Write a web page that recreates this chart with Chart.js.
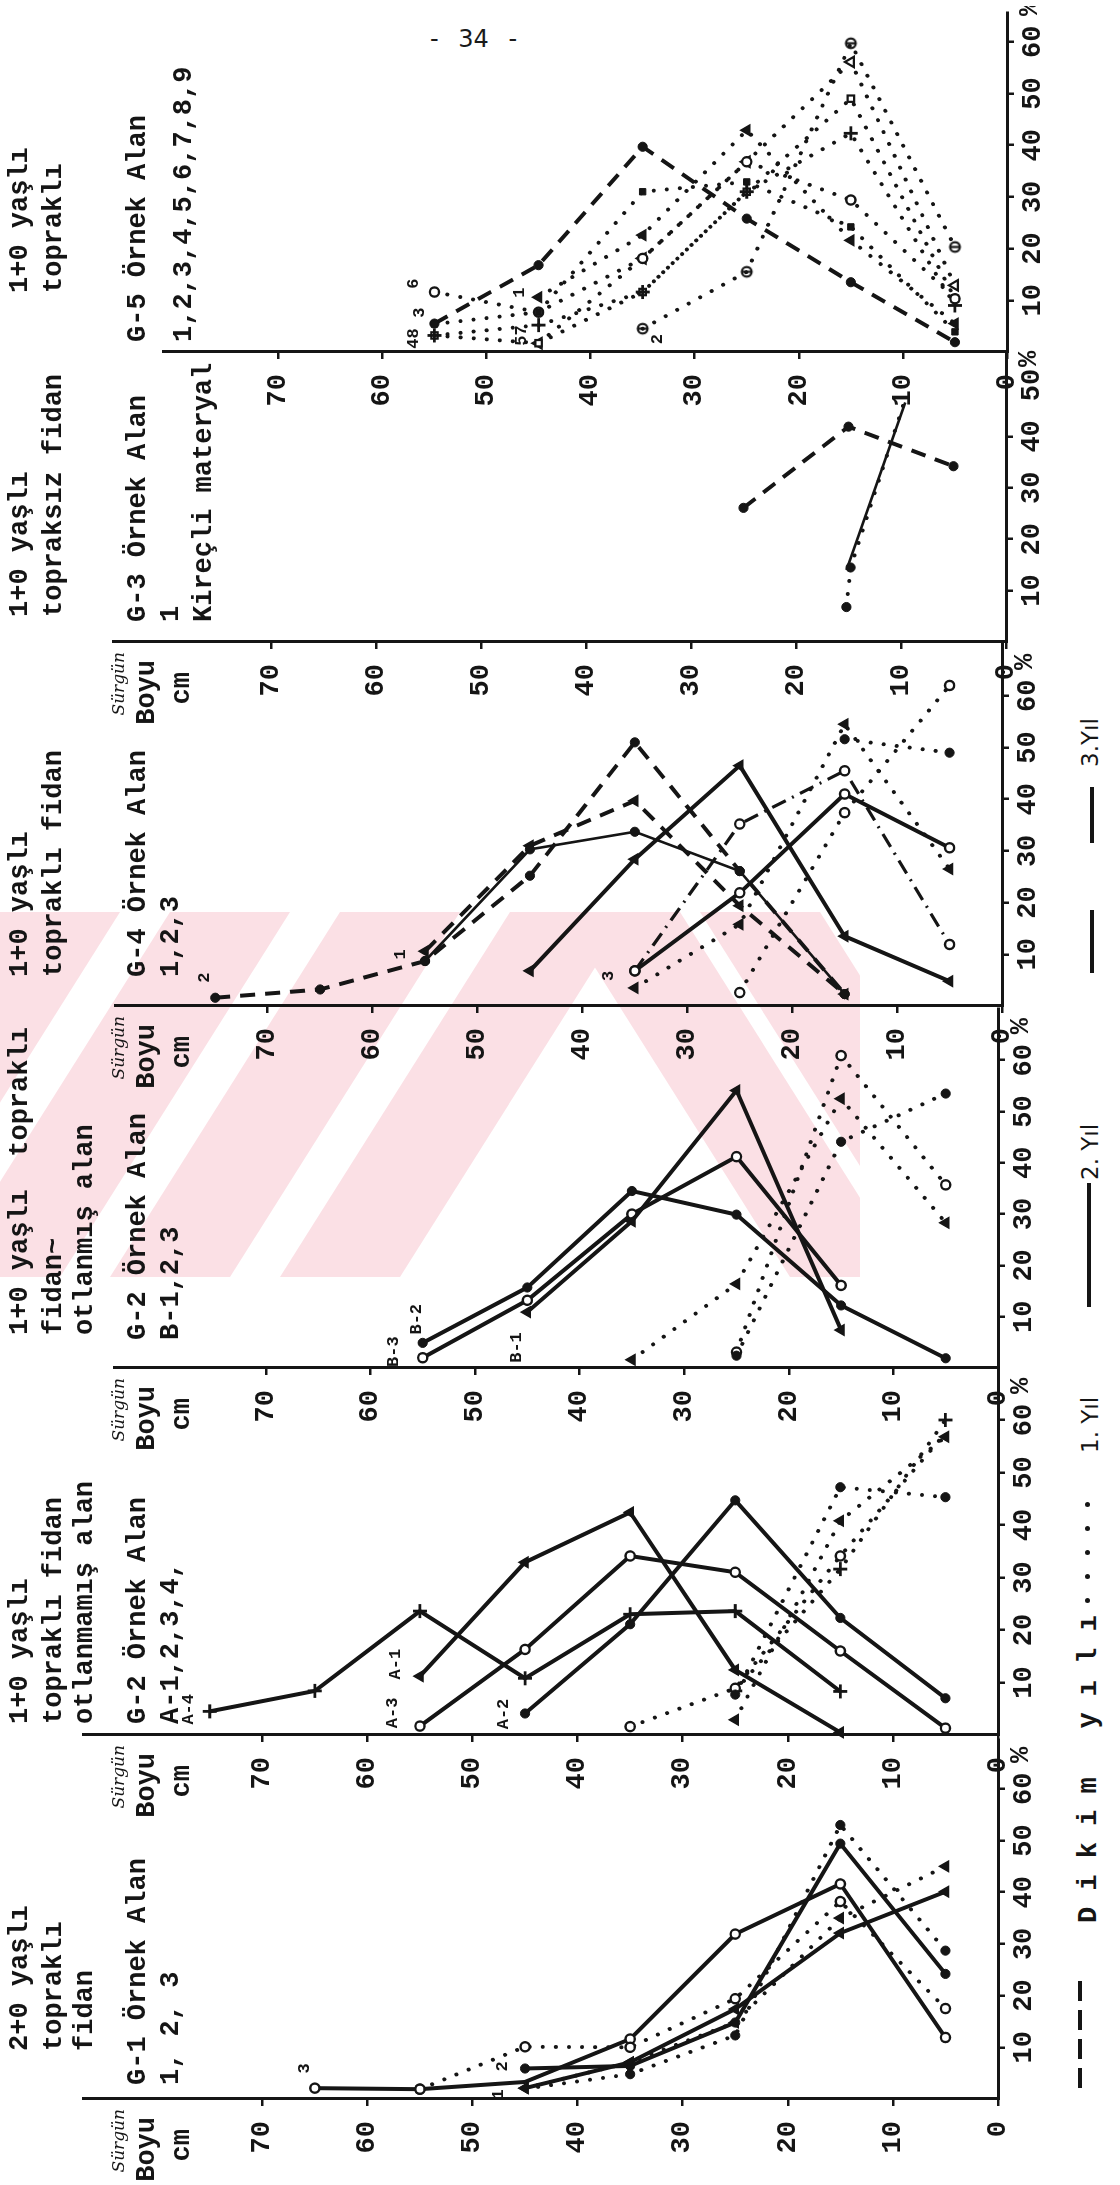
<!DOCTYPE html>
<html lang="tr">
<head>
<meta charset="utf-8">
<title>Sürgün boyu dağılımı - 34</title>
<script src="https://cdn.jsdelivr.net/npm/chart.js@4.4.0/dist/chart.umd.min.js"></script>
<style>
  html, body { margin: 0; padding: 0; background: #fff; }
  #page { position: relative; width: 1120px; height: 2185px; overflow: hidden; background: #fff; }
  #wm { position: absolute; left: 0; top: 0; }
  #num { position: absolute; left: 430px; top: 27px; font: 24px/24px 'DejaVu Sans', sans-serif; color: #1a1a1a; white-space: pre; word-spacing: 12px; }
  #land { position: absolute; left: 0; top: 0; width: 2185px; height: 1120px; transform-origin: 0 0; transform: translateY(2185px) rotate(-90deg); }
  #land canvas { position: absolute; top: 0; }
  .t { position: absolute; white-space: pre; color: #151515; font: bold 27px/27px 'Liberation Mono', 'DejaVu Sans Mono', monospace; }
  .hand { position: absolute; white-space: pre; color: #151515; font: italic 17px/17px 'DejaVu Serif', serif; }
  .yil { position: absolute; white-space: pre; color: #151515; font: 23px/23px 'DejaVu Sans', sans-serif; }
  .bar { position: absolute; background: #151515; }
  .dot { position: absolute; width: 5px; height: 5px; border-radius: 50%; background: #151515; }
</style>
</head>
<body>
<div id="page">
  <svg id="wm" width="1120" height="2185" viewBox="0 0 1120 2185">
    <defs><clipPath id="wmc"><rect x="0" y="912" width="860" height="365"/></clipPath></defs>
    <g clip-path="url(#wmc)" fill="#fbe0e5">
      <polygon points="-230,1277 -110,1277 120,912 0,912"/>
      <polygon points="-60,1277 60,1277 290,912 170,912"/>
      <polygon points="110,1277 230,1277 460,912 340,912"/>
      <polygon points="280,1277 400,1277 630,912 510,912"/>
      <polygon points="560,912 680,912 910,1277 790,1277"/>
      <polygon points="700,912 820,912 1050,1277 930,1277"/>
    </g>
  </svg>
  <div id="num">- 34 -</div>
  <div id="land"></div>
</div>
<script>
// Sürgün boyu sınıf ortaları (cm) ve eksen işaretleri
const CM = [75, 65, 55, 45, 35, 25, 15, 5];
const CM_TICKS = [0, 10, 20, 30, 40, 50, 60, 70];
const PCT_TICKS = [10, 20, 30, 40, 50, 60];
const PCT_TICKS_G3 = [10, 20, 30, 40, 50];

// G-1 Örnek Alan 1, 2, 3 (% değerleri, CM sırasına göre)
const g1A1Yil1 = [null, null, null, 2.1, 7.1, 14.8, 35.0, 45.0];
const g1A1Yil2 = [null, null, null, 2.1, 7.1, 17.4, 32.1, 40.1];
const g1A2Yil1 = [null, null, null, 2.0, 4.8, 12.3, 53.0, 28.7];
const g1A2Yil2 = [null, null, null, 5.9, 6.4, 14.8, 49.4, 24.2];
const g1A3Yil1 = [null, null, 1.9, 10.1, 10.0, 19.4, 38.2, 17.5];
const g1A3Yil2 = [null, 2.1, 1.9, 3.3, 11.6, 31.9, 41.6, 11.9];

// G-2 Örnek Alan A-1..A-4 (otlanmamış alan)
const g2A1Yil1 = [null, null, null, null, null, 2.9, 40.8, 56.8];
const g2A1Yil2 = [null, null, 11.2, 32.9, 42.4, 12.4, 0.5, null];
const g2A2Yil1 = [null, null, null, null, null, 7.7, 47.2, 45.3];
const g2A2Yil2 = [null, null, null, 4.1, 21.1, 44.7, 22.3, 7.0];
const g2A3Yil1 = [null, null, null, null, 1.6, 8.9, 34.1, 57.5];
const g2A3Yil2 = [null, null, 1.7, 16.3, 34.1, 31.0, 16.0, 1.3];
const g2A4Yil1 = [null, null, null, null, null, 8.4, 31.6, 60.0];
const g2A4Yil2 = [4.5, 8.4, 23.6, 10.8, 23.0, 23.6, 8.3, null];

// G-2 Örnek Alan B-1..B-3 (otlanmış alan)
const g2B1Yil1 = [null, null, null, null, 1.6, 16.4, 52.5, 28.3];
const g2B1Yil2 = [null, null, null, 10.9, 28.6, 54.1, 7.4, null];
const g2B2Yil1 = [null, null, null, null, null, 2.4, 44.1, 53.5];
const g2B2Yil2 = [null, null, 4.9, 15.7, 34.5, 29.9, 12.2, 1.9];
const g2B3Yil1 = [null, null, null, null, null, 3.1, 60.9, 35.7];
const g2B3Yil2 = [null, null, 2.0, 13.2, 30.0, 41.2, 16.1, null];

// G-4 Örnek Alan 1, 2, 3
const g4A1Yil1 = [null, null, null, null, 3.5, 15.8, 54.5, 26.5];
const g4A1Yil2 = [null, null, null, 6.8, 28.4, 46.5, 13.5, 4.8];
const g4A1Yil3 = [null, null, 10.6, 31.0, 39.7, 19.4, 2.3, null];
const g4A2Yil1 = [null, null, null, null, null, null, 51.6, 49.0];
const g4A2Yil2 = [null, null, 8.7, 30.3, 33.7, 26.1, 2.3, null];
const g4A2Yil3 = [1.6, 3.2, 8.7, 25.2, 51.0, 26.1, 2.3, null];
const g4A3Yil1 = [null, null, null, null, null, 2.6, 37.4, 62.0];
const g4A3Yil2 = [null, null, null, null, 6.8, 21.9, 41.0, 30.6];
const g4A3Yil3 = [null, null, null, null, 6.8, 35.2, 45.5, 11.9];

// G-3 Örnek Alan 1 (kireçli materyal)
const g3Yil1Cm = [15.2, 14.8, 9.8];
const g3Yil1 = [6.8, 14.5, 46.0];
const g3Yil2Cm = [15.2, 9.6];
const g3Yil2 = [14.0, 46.6];
const g3Yil3 = [null, null, null, null, null, 26.1, 41.9, 34.2];

// G-5 Örnek Alan 1..9
const g5Dash = [null, null, 5.5, 16.8, 39.7, 25.8, 13.5, 1.9];
const g5D1 = [null, null, null, 10.6, 22.6, 42.9, 21.6, 5.5];
const g5D2 = [null, null, null, null, 4.5, 15.5, 59.7, 20.3];
const g5D3 = [null, null, 5.4, 7.7, 31.0, 32.9, 24.2, 3.9];
const g5D4 = [null, null, 11.6, 7.7, 18.1, 36.8, 29.4, 10.3];
const g5D5 = [null, null, 3.2, 5.2, 11.6, 31.0, 42.3, 9.0];
const g5D6 = [null, null, 3.2, 1.7, 11.6, 31.0, 49.0, 10.3];
const g5D7 = [null, null, null, 1.7, 18.1, 36.8, 56.1, 12.9];

const INK = '#151515';
const MONO = "'Liberation Mono', 'DejaVu Sans Mono', monospace";
const WY = 95, HX = 62;

function thetaMark() {
  const c = document.createElement('canvas');
  c.width = 15; c.height = 15;
  const g = c.getContext('2d');
  g.strokeStyle = INK; g.lineWidth = 2.2;
  g.beginPath(); g.arc(7.5, 7.5, 4.8, 0, Math.PI * 2); g.stroke();
  g.beginPath(); g.moveTo(7.5, 2); g.lineTo(7.5, 13); g.stroke();
  return c;
}

const MARKS = {
  tri:   { pointStyle: 'triangle', pointRadius: 6,   pointBackgroundColor: INK,    pointBorderWidth: 1.5 },
  otri:  { pointStyle: 'triangle', pointRadius: 6,   pointBackgroundColor: '#fff', pointBorderWidth: 2.2 },
  dot:   { pointStyle: 'circle',   pointRadius: 4.6, pointBackgroundColor: INK,    pointBorderWidth: 1 },
  ring:  { pointStyle: 'circle',   pointRadius: 4.6, pointBackgroundColor: '#fff', pointBorderWidth: 2.4 },
  plus:  { pointStyle: 'cross',    pointRadius: 7,   pointBackgroundColor: INK,    pointBorderWidth: 2.8 },
  sq:    { pointStyle: 'rect',     pointRadius: 4.5, pointBackgroundColor: INK,    pointBorderWidth: 1 },
  osq:   { pointStyle: 'rect',     pointRadius: 4.5, pointBackgroundColor: '#fff', pointBorderWidth: 2.2 },
  theta: { pointStyle: thetaMark(), pointRadius: 6 },
  none:  { pointRadius: 0 }
};

const LINES = {
  y1:  { borderWidth: 4,   borderDash: [0.1, 13], borderCapStyle: 'round' },
  y2:  { borderWidth: 4,   borderDash: [] },
  y2t: { borderWidth: 2.6, borderDash: [] },
  y3:  { borderWidth: 4,   borderDash: [15, 10] },
  dd:  { borderWidth: 3.2, borderDash: [15, 7, 2, 7] }
};

const PANELS = [
  { u0: 86, ppx: 5.17, v0: 998, ppc: 10.51, xMax: 69.5, yMax: 87, xTicks: PCT_TICKS, pctOff: 34,
    series: [
      { v: g1A1Yil1, line: 'y1', mark: 'tri' },
      { v: g1A2Yil1, line: 'y1', mark: 'dot', hide: [0] },
      { v: g1A3Yil1, line: 'y1', mark: 'ring' },
      { v: g1A1Yil2, line: 'y2', mark: 'tri' },
      { v: g1A2Yil2, line: 'y2', mark: 'dot' },
      { v: g1A3Yil2, line: 'y2', mark: 'ring', hide: [2] }
    ],
    labels: [{ t: '3', p: 5.9, c: 66 }, { t: '2', p: 6.3, c: 47.1 }, { t: '1', p: 0.9, c: 47.5 }] },
  { u0: 450, ppx: 5.25, v0: 998, ppc: 10.51, xMax: 69.5, yMax: 87, xTicks: PCT_TICKS, pctOff: 34,
    series: [
      { v: g2A1Yil1, line: 'y1', mark: 'tri' },
      { v: g2A2Yil1, line: 'y1', mark: 'dot' },
      { v: g2A3Yil1, line: 'y1', mark: 'ring', hide: [3] },
      { v: g2A4Yil1, line: 'y1', mark: 'plus' },
      { v: g2A1Yil2, line: 'y2', mark: 'tri' },
      { v: g2A2Yil2, line: 'y2', mark: 'dot' },
      { v: g2A3Yil2, line: 'y2', mark: 'ring' },
      { v: g2A4Yil2, line: 'y2', mark: 'plus' }
    ],
    labels: [{ t: 'A-4', p: 4.9, c: 77 }, { t: 'A-1', p: 13.5, c: 57.3 }, { t: 'A-3', p: 4.2, c: 57.6 }, { t: 'A-2', p: 4.0, c: 47 }] },
  { u0: 817, ppx: 5.13, v0: 998, ppc: 10.46, xMax: 70, yMax: 84.5, xTicks: PCT_TICKS, pctOff: 34,
    series: [
      { v: g2B1Yil1, line: 'y1', mark: 'tri' },
      { v: g2B2Yil1, line: 'y1', mark: 'dot' },
      { v: g2B3Yil1, line: 'y1', mark: 'ring' },
      { v: g2B1Yil2, line: 'y2', mark: 'tri' },
      { v: g2B2Yil2, line: 'y2', mark: 'dot' },
      { v: g2B3Yil2, line: 'y2', mark: 'ring' }
    ],
    labels: [{ t: 'B-3', p: 3.2, c: 57.8 }, { t: 'B-2', p: 9.5, c: 55.6 }, { t: 'B-1', p: 4.0, c: 46 }] },
  { u0: 1179, ppx: 5.17, v0: 1002, ppc: 10.49, xMax: 70, yMax: 84.5, xTicks: PCT_TICKS, pctOff: 34,
    series: [
      { v: g4A1Yil1, line: 'y1', mark: 'tri' },
      { v: g4A2Yil1, line: 'y1', mark: 'dot' },
      { v: g4A3Yil1, line: 'y1', mark: 'ring' },
      { v: g4A1Yil2, line: 'y2', mark: 'tri' },
      { v: g4A2Yil2, line: 'y2t', mark: 'dot' },
      { v: g4A3Yil2, line: 'y2', mark: 'ring' },
      { v: g4A1Yil3, line: 'y3', mark: 'tri' },
      { v: g4A2Yil3, line: 'y3', mark: 'dot' },
      { v: g4A3Yil3, line: 'dd', mark: 'ring' }
    ],
    labels: [{ t: '2', p: 5.5, c: 76 }, { t: '1', p: 10, c: 57.3 }, { t: '3', p: 5.8, c: 37.5 }] },
  { u0: 1543, ppx: 5.14, v0: 1006, ppc: 10.5, xMax: 56.5, yMax: 85, xTicks: PCT_TICKS_G3, pctOff: 26,
    series: [
      { v: g3Yil1, cm: g3Yil1Cm, line: 'y1', mark: 'dot', hide: [2] },
      { v: g3Yil2, cm: g3Yil2Cm, line: 'y2t', mark: 'none' },
      { v: g3Yil3, line: 'y3', mark: 'dot' }
    ],
    labels: [] },
  { u0: 1833, ppx: 5.17, v0: 1007, ppc: 10.41, xMax: 65.6, yMax: 81, xTicks: PCT_TICKS, pctOff: 34,
    series: [
      { v: g5D1, line: 'y1', mark: 'tri' },
      { v: g5D2, line: 'y1', mark: 'theta' },
      { v: g5D3, line: 'y1', mark: 'sq' },
      { v: g5D4, line: 'y1', mark: 'ring' },
      { v: g5D5, line: 'y1', mark: 'plus' },
      { v: g5D6, line: 'y1', mark: 'osq' },
      { v: g5D7, line: 'y1', mark: 'otri' },
      { v: g5Dash, line: 'y3', mark: 'dot' }
    ],
    labels: [{ t: '48', p: 2.6, c: 57 }, { t: '3', p: 7.6, c: 56.4 }, { t: '6', p: 13.2, c: 57 },
             { t: '57', p: 3.2, c: 46.6 }, { t: '1', p: 11.5, c: 46.8 }, { t: '2', p: 2.5, c: 33.6 }] }
];

// Başlık metinleri: du = eksenden uzaklık, b = taban çizgisi
const HEADERS = [
  [{ du: 48, b: [28, 62, 93], lines: ['2+0 yaşlı', 'topraklı', 'fidan'] },
   { du: 14, b: [146, 179], lines: ['G-1 Örnek Alan', '1, 2, 3'] }],
  [{ du: 11, b: [28, 62, 93], lines: ['1+0 yaşlı', 'topraklı fidan', 'otlanmamış alan'] },
   { du: 11, b: [146, 179], lines: ['G-2 Örnek Alan', 'A-1,2,3,4,'] }],
  [{ du: 33, b: [28, 62, 93], lines: ['1+0 yaşlı  topraklı', 'fidan~', 'otlanmış alan'] },
   { du: 28, b: [146, 179], lines: ['G-2 Örnek Alan', 'B-1,2,3'] }],
  [{ du: 29, b: [28, 62], lines: ['1+0 yaşlı', 'topraklı fidan'] },
   { du: 29, b: [146, 179], lines: ['G-4 Örnek Alan', '1,2,3'] }],
  [{ du: 25, b: [28, 62], lines: ['1+0 yaşlı', 'topraksız fidan'] },
   { du: 20, b: [146, 179, 212], lines: ['G-3 Örnek Alan', '1', 'Kireçli materyal'] }],
  [{ du: 59, b: [28, 62], lines: ['1+0 yaşlı', 'topraklı'] },
   { du: 10, b: [146, 192], lines: ['G-5 Örnek Alan', '1,2,3,4,5,6,7,8,9'] }]
];

const annot = {
  id: 'annot',
  afterDraw(chart, args, o) {
    const { ctx, chartArea, scales } = chart;
    ctx.save();
    ctx.fillStyle = INK;
    ctx.textAlign = 'center';
    ctx.textBaseline = 'middle';
    ctx.font = `bold 17px ${MONO}`;
    for (const l of (o.labels || [])) {
      ctx.fillText(l.t, scales.x.getPixelForValue(l.p), scales.y.getPixelForValue(l.c));
    }
    ctx.font = `bold 27px ${MONO}`;
    ctx.textBaseline = 'top';
    ctx.fillText('%', scales.x.getPixelForValue(o.pctAt) + o.pctOff, chartArea.bottom + 10);
    ctx.restore();
  }
};

const land = document.getElementById('land');

function addText(cls, text, left, top) {
  const d = document.createElement('div');
  d.className = cls;
  d.textContent = text;
  d.style.left = left + 'px';
  d.style.top = top + 'px';
  land.appendChild(d);
  return d;
}

function addRight(cls, text, right, top) {
  const d = addText(cls, text, right - 200, top);
  d.style.width = '200px';
  d.style.textAlign = 'right';
}

function makeDataset(s) {
  const cms = s.cm || CM;
  const pts = [];
  cms.forEach((c, i) => { if (s.v[i] != null) pts.push({ x: s.v[i], y: c }); });
  const m = MARKS[s.mark];
  const hide = s.hide || [];
  return Object.assign({
    data: pts,
    showLine: true,
    fill: false,
    tension: 0,
    clip: false,
    borderColor: INK,
    pointBorderColor: INK
  }, LINES[s.line], m, {
    pointRadius: ctx => hide.includes(ctx.dataIndex) ? 0 : (m.pointRadius || 0)
  });
}

function buildPanel(p) {
  const chartW = p.xMax * p.ppx;
  const chartH = p.yMax * p.ppc;
  const w = Math.ceil(WY + chartW + 6);
  const h = Math.round(p.v0 + HX);
  const cv = document.createElement('canvas');
  cv.width = w; cv.height = h;
  cv.style.left = (p.u0 - WY) + 'px';
  cv.style.width = w + 'px';
  cv.style.height = h + 'px';
  land.appendChild(cv);

  const tickFont = { family: MONO, size: 27, weight: 'bold' };
  new Chart(cv, {
    type: 'scatter',
    data: { datasets: p.series.map(makeDataset) },
    options: {
      responsive: false,
      animation: false,
      events: [],
      layout: { autoPadding: false, padding: { left: 0, top: p.v0 - chartH, right: w - WY - chartW, bottom: 0 } },
      plugins: {
        legend: { display: false },
        tooltip: { enabled: false },
        annot: { labels: p.labels, pctAt: p.xTicks[p.xTicks.length - 1], pctOff: p.pctOff }
      },
      scales: {
        x: {
          type: 'linear', min: 0, max: p.xMax,
          afterBuildTicks: s => { s.ticks = p.xTicks.map(v => ({ value: v })); },
          afterFit: s => { s.height = HX; },
          grid: { drawOnChartArea: false, drawTicks: true, tickLength: 7, color: INK, lineWidth: 2.5 },
          border: { display: true, color: INK, width: 3 },
          ticks: { color: INK, font: tickFont, padding: 3, maxRotation: 0, autoSkip: false, callback: v => String(v) }
        },
        y: {
          type: 'linear', min: 0, max: p.yMax,
          afterBuildTicks: s => { s.ticks = CM_TICKS.map(v => ({ value: v })); },
          afterFit: s => { s.width = WY; },
          grid: { drawOnChartArea: false, drawTicks: true, tickLength: 7, color: INK, lineWidth: 2.5 },
          border: { display: true, color: INK, width: 3 },
          ticks: { color: INK, font: tickFont, padding: 15, autoSkip: false, callback: v => String(v) }
        }
      }
    },
    plugins: [annot]
  });
}

PANELS.forEach(buildPanel);

// başlıklar
PANELS.forEach((p, i) => {
  HEADERS[i].forEach(blk => {
    blk.lines.forEach((ln, k) => addText('t', ln, p.u0 + blk.du, blk.b[k] - 21));
  });
  if (i < 5) {
    addRight('hand', 'Sürgün', p.u0 - 10, 110);
    addRight('t', 'Boyu', p.u0 - 18, 134);
    addRight('t', 'cm', p.u0 - 30, 169);
  }
});

// açıklama satırı
[97, 126, 155, 184].forEach(u => {
  const d = addText('bar', '', u, 1078);
  d.style.width = '20px'; d.style.height = '3.5px';
});
addText('t', 'D i k i m   y ı l ı', 262, 1076);
[582, 606, 630, 654, 678].forEach(u => addText('dot', '', u, 1085));
addText('yil', '1. Yıl', 732, 1079);
const solid = addText('bar', '', 878, 1087); solid.style.width = '124px'; solid.style.height = '3.5px';
addText('yil', '2. Yıl', 1005, 1079);
const d1 = addText('bar', '', 1212, 1090); d1.style.width = '63px'; d1.style.height = '4px';
const d2 = addText('bar', '', 1342, 1090); d2.style.width = '56px'; d2.style.height = '4px';
addText('yil', '3.Yıl', 1418, 1079);
</script>
</body>
</html>
